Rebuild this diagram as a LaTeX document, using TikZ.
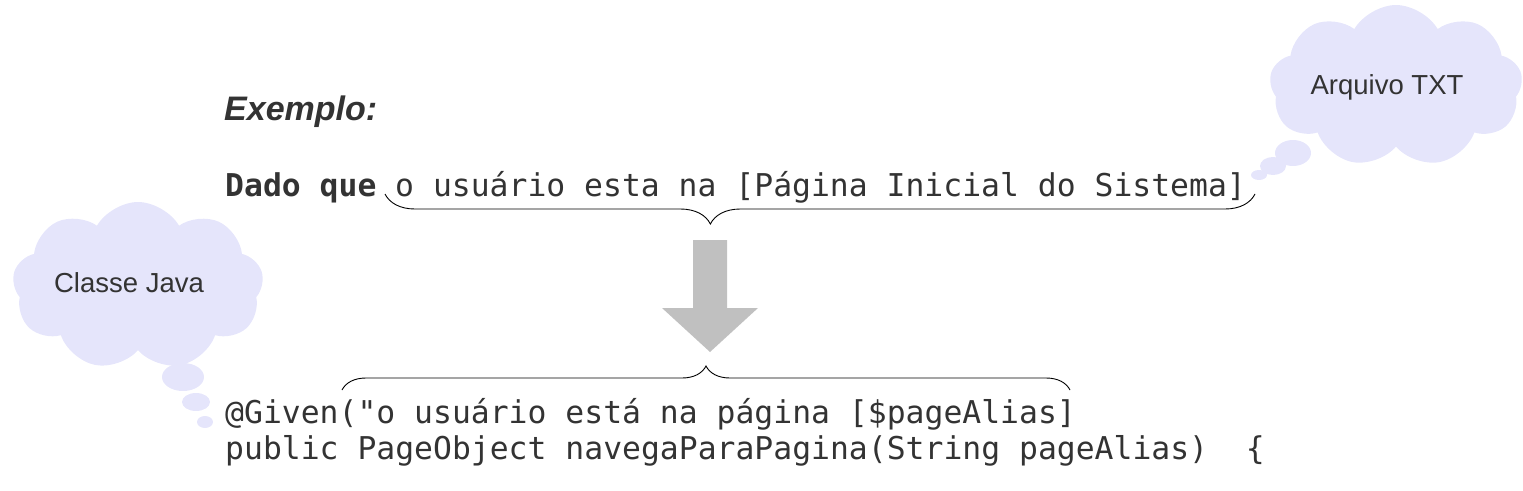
\documentclass[tikz,border=0pt]{standalone}
\usepackage{fontspec}
\setsansfont{Liberation Sans}
\setmonofont{DejaVu Sans Mono}
\usetikzlibrary{positioning,calc,shapes.symbols,decorations.pathreplacing}
\definecolor{nuvem}{RGB}{229,229,251}
\definecolor{cinzaseta}{RGB}{192,192,192}
\definecolor{textocinza}{RGB}{51,51,51}

\begin{document}
\begin{tikzpicture}[x=1pt,y=-1pt,
      cod/.style={font=\ttfamily\fontsize{31.4}{36}\selectfont,text=textocinza,inner sep=0pt,anchor=base west},
      nuvem/.style={cloud,cloud puffs=9,cloud puff arc=120,aspect=1.5,fill=nuvem,inner sep=0pt},
      rotulo/.style={text=textocinza,font=\sffamily\fontsize{27.5}{32}\selectfont},
      chave/.style={decorate,decoration={brace,amplitude=#1},line width=0.9pt}]
    \useasboundingbox (0,0) rectangle (1523,490);
    \node[font=\sffamily\bfseries\itshape\fontsize{34}{40}\selectfont,text=textocinza,
      inner sep=0pt,anchor=base west] (ex) at (224,120) {Exemplo:};
    \node[cod] (dado) at (225,196) {\textbf{Dado que}};
    \node[cod] (passo) at (395,196) {o usuário esta na [Página Inicial do Sistema]};
    \node[cod] (given) at (225,423) {@Given("o usuário está na página [\$pageAlias]};
    \node[cod] (metodo) at (225,459) {public PageObject navegaParaPagina(String pageAlias)\ \ \{};
    \node[nuvem,minimum width=251pt,minimum height=168pt] (java) at (138,286) {};
    \node[rotulo] (javatxt) at (129,283) {Classe Java};
    \fill[nuvem] (183,377) ellipse[x radius=21,y radius=14]
      (196,402) ellipse[x radius=14,y radius=9]
      (205,422) ellipse[x radius=8,y radius=6];
    \node[nuvem,minimum width=253pt,minimum height=162pt] (txt) at (1396,86) {};
    \node[rotulo] (txttxt) at (1387,87) {Arquivo TXT};
    \fill[nuvem] (1293,153) ellipse[x radius=18,y radius=13]
      (1273,166) ellipse[x radius=13,y radius=9]
      (1259,175) ellipse[x radius=8,y radius=5];
    \draw[chave=30pt,decoration={mirror,aspect=0.374}] (385,194) -- (1255,194);
    \draw[chave=24pt] (342,390) -- (1070,390);
    \coordinate (seta) at (710,240);
    \fill[cinzaseta] (seta) ++(-17,0) -- ++(34,0) -- ++(0,68) -- ++(31,0) -- (710,352)
      -- (662,308) -- ++(31,0) -- cycle;
  \end{tikzpicture}
\end{document}
